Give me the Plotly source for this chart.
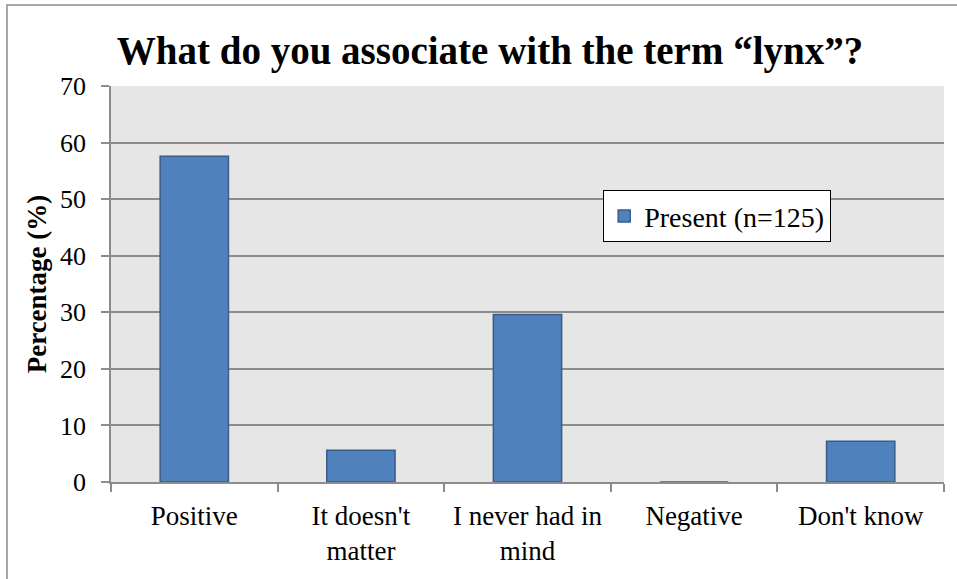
import plotly.graph_objects as go

categories = ["Positive", "It doesn't<br>matter", "I never had in<br>mind", "Negative", "Don't know"]
values = [57.6, 5.6, 29.6, 0, 7.2]
series_name = "Present (n=125)"
y_ticks = [0, 10, 20, 30, 40, 50, 60, 70]

FONT = "Liberation Serif"
L, R, T, B = 111, 13, 86, 97
W, H = 957, 579
pw, ph = W - L - R, H - T - B

fig = go.Figure()
fig.add_trace(go.Bar(
    x=categories, y=values, name=series_name,
    marker=dict(color="#4F81BD", line=dict(color="#385D8A", width=1.5)),
    showlegend=True,
))

def px_x(p):
    return (p - L) / pw

def px_y(p):
    return (H - B - p) / ph

fig.update_layout(
    width=W, height=H,
    margin=dict(l=L, r=R, t=T, b=B),
    paper_bgcolor="white",
    plot_bgcolor="#E6E6E6",
    bargap=0.59,
    font=dict(family=FONT, size=27, color="black"),
    title=dict(text="<b>What do you associate with the term “lynx”?</b>",
               x=490 / W, xanchor="center", xref="container",
               y=1 - 50 / H, yanchor="middle",
               font=dict(family=FONT, size=39, color="black")),
    showlegend=True,
    legend=dict(x=px_x(603), y=px_y(190), xanchor="left", yanchor="top",
                bgcolor="white", bordercolor="black", borderwidth=1.2,
                font=dict(family=FONT, size=28, color="black"),
                itemwidth=30),
    xaxis=dict(showline=True, linecolor="#8C8C8C", linewidth=1.5,
               ticks="outside", ticklen=8, tickcolor="#8C8C8C", tickwidth=1.5,
               tickson="boundaries", showgrid=False, ticklabelstandoff=9,
               tickfont=dict(family=FONT, size=27, color="black")),
    yaxis=dict(range=[0, 70], tickvals=y_ticks, showline=True, linecolor="#8C8C8C",
               linewidth=1.5, ticks="outside", ticklen=8, tickcolor="#8C8C8C",
               tickwidth=1.5, showgrid=True, gridcolor="#8C8C8C", gridwidth=1.5,
               zeroline=False, ticklabelstandoff=10,
               tickfont=dict(family=FONT, size=26, color="black")),
    shapes=[dict(type="rect", xref="paper", yref="paper",
                 x0=px_x(7), x1=px_x(962), y0=px_y(585), y1=px_y(5),
                 line=dict(color="#8C8C8C", width=1.5), layer="below")],
)
fig.update_yaxes(title=dict(text="<b>Percentage (%)</b>", standoff=6,
                            font=dict(family=FONT, size=27, color="black")))

fig.write_html("out.html", config={"displayModeBar": False},
               post_script="document.body.style.margin='0';document.body.style.overflow='hidden';")
